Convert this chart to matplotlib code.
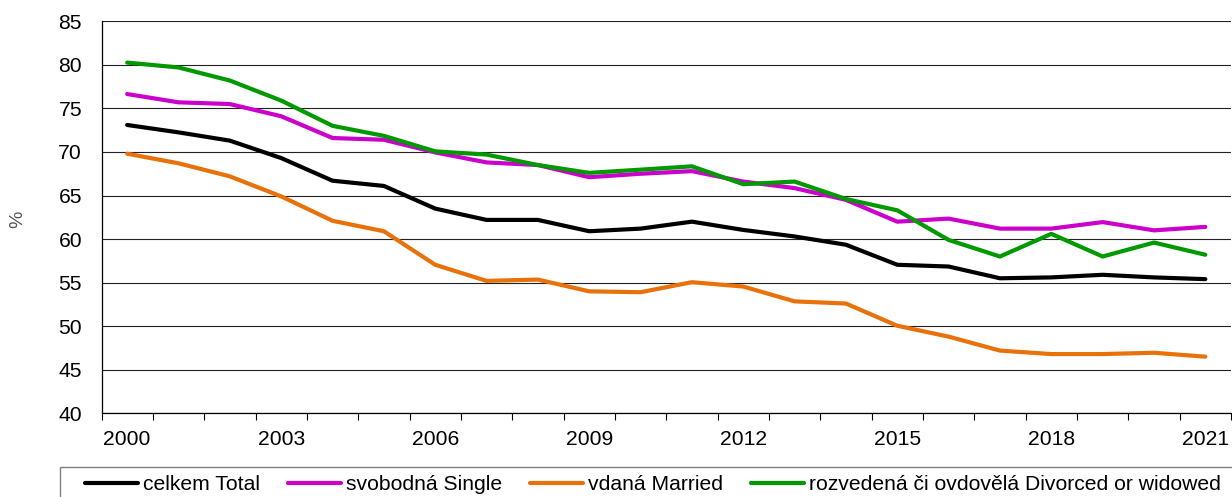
import matplotlib
matplotlib.use("Agg")
import matplotlib.pyplot as plt
from matplotlib.patches import Rectangle
import numpy as np

years = list(range(2000, 2022))
tick_years = [2000, 2003, 2006, 2009, 2012, 2015, 2018, 2021]

total = [73.1, 72.25, 71.3, 69.3, 66.7, 66.1, 63.5, 62.2, 62.2, 60.9, 61.2,
         62.0, 61.05, 60.3, 59.35, 57.05, 56.85, 55.5, 55.6, 55.9, 55.6, 55.4]
single = [76.65, 75.7, 75.5, 74.1, 71.6, 71.4, 69.95, 68.8, 68.5, 67.1, 67.5,
          67.8, 66.6, 65.85, 64.5, 62.0, 62.35, 61.2, 61.2, 61.95, 61.0, 61.4]
married = [69.8, 68.7, 67.2, 64.9, 62.1, 60.9, 57.05, 55.2, 55.35, 54.0, 53.9,
           55.05, 54.55, 52.85, 52.6, 50.05, 48.8, 47.2, 46.8, 46.8, 46.95, 46.5]
divorced = [80.26, 79.7, 78.2, 75.9, 73.0, 71.85, 70.07, 69.7, 68.5, 67.6, 67.97,
            68.35, 66.3, 66.6, 64.6, 63.3, 59.9, 58.0, 60.6, 58.0, 59.6, 58.2]

labels = ["celkem Total", "svobodná Single", "vdaná Married",
          "rozvedená či ovdovělá Divorced or widowed"]
colors = ["#000000", "#CC00CC", "#E8710A", "#009900"]

plt.rcParams['font.family'] = ['Liberation Sans', 'DejaVu Sans']
FS = 15.2

W, H = 1232, 497
fig = plt.figure(figsize=(W / 100, H / 100), dpi=100)
ax = fig.add_axes([101.5 / W, 1 - 413.3 / H, 1129.5 / W, (413.3 - 21.3) / H])

x = np.arange(len(years))
for series, c, lab in zip([total, single, married, divorced], colors, labels):
    ax.plot(x, series, color=c, lw=3.0, label=lab, solid_capstyle='round',
            solid_joinstyle='round')

ax.set_xlim(-0.5, len(years) - 0.5)
ax.set_ylim(40, 85)
ax.set_yticks(np.arange(40, 86, 5))
ax.yaxis.grid(True, color='#222222', lw=0.8)
ax.set_axisbelow(True)

ax.set_xticks(np.arange(-0.5, len(years), 1))
ax.set_xticklabels([])
ax.set_xticks([years.index(y) for y in tick_years], minor=True)
ax.set_xticklabels([str(y) for y in tick_years], minor=True)
ax.tick_params(axis='x', which='major', length=5, width=0.8, color='black')
ax.tick_params(axis='x', which='minor', length=0, pad=12, labelsize=FS)
ax.tick_params(axis='y', length=0, pad=14, labelsize=FS)

for s in ['top', 'right']:
    ax.spines[s].set_visible(False)
for s in ['left', 'bottom']:
    ax.spines[s].set_color('black')
    ax.spines[s].set_linewidth(0.9)

fig.text(18 / W, 1 - 219 / H, "%", rotation=90, color='#555555',
         fontsize=14, ha='center', va='center')

# legend frame (extends past the right edge like the reference)
fig.patches.append(Rectangle((59.5 / W, 0 - 5 / H), (W + 20 - 59.5) / W,
                             (H - 467.3 + 5) / H, transform=fig.transFigure,
                             facecolor='white', edgecolor='#808080', lw=1.0,
                             zorder=0))

leg = fig.legend(loc='center left', bbox_to_anchor=(85 / W, 1 - 484.5 / H),
                 ncol=4, fontsize=FS, frameon=False,
                 handlelength=2.5, handletextpad=0.25,
                 columnspacing=1.32, borderpad=0, borderaxespad=0)

fig.savefig("out.png", dpi=100)
